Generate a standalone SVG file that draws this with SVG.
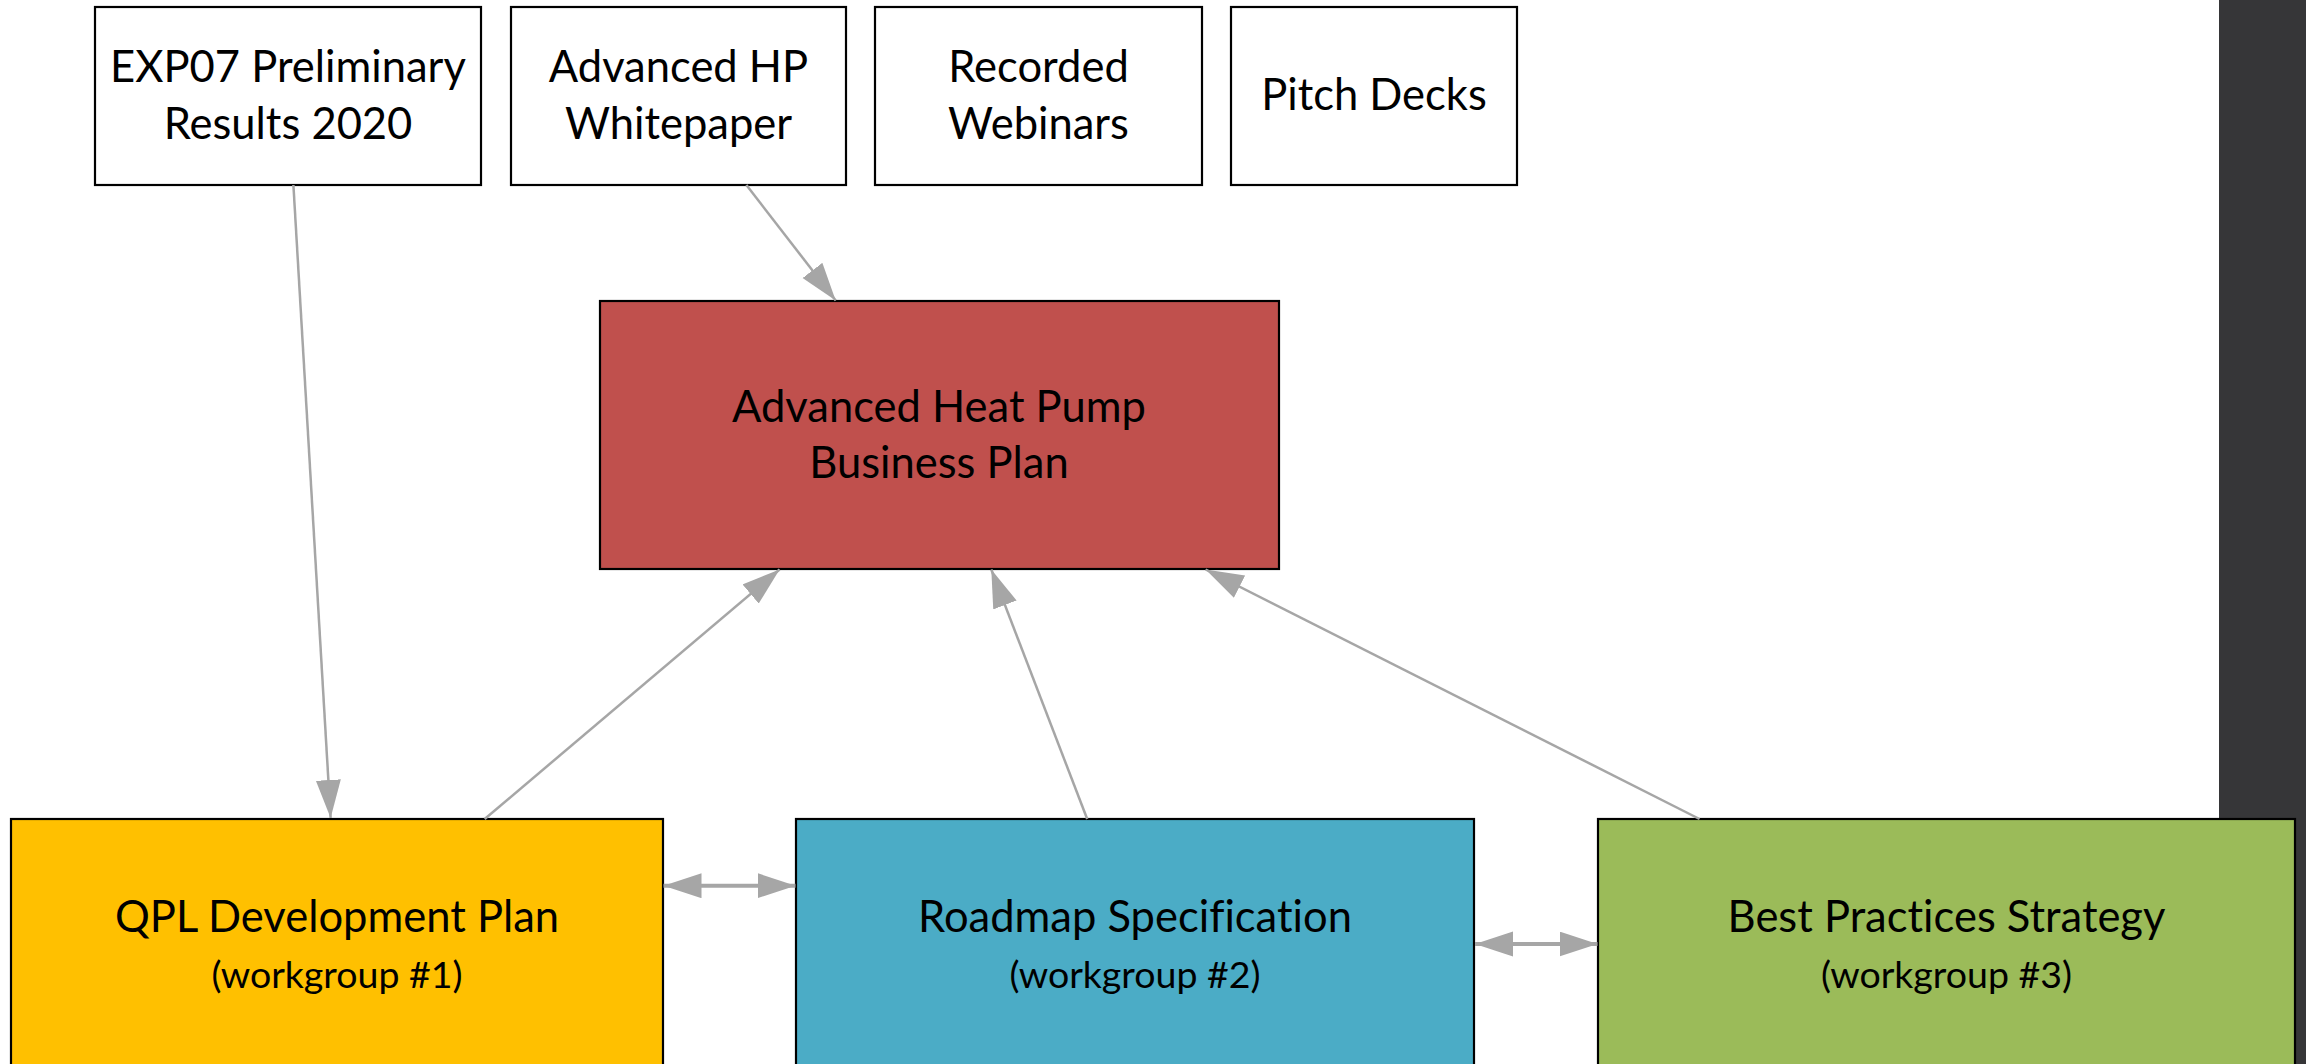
<svg xmlns="http://www.w3.org/2000/svg" width="2306" height="1064" viewBox="0 0 2306 1064">
  <style>
    .box { stroke: #000000; stroke-width: 2.2; }
    .doc { fill: #ffffff; }
    .lbl { font-family: Lato, "Open Sans", sans-serif; font-size: 43.5px; fill: #000000; text-anchor: middle; font-variant-ligatures: none; }
    .sub { font-family: Lato, "Open Sans", sans-serif; font-size: 37.5px; fill: #000000; text-anchor: middle; font-variant-ligatures: none; }
    .link { stroke: #a6a6a6; stroke-width: 2.5; fill: none; }
    .peer { stroke: #a6a6a6; stroke-width: 4; fill: none; }
  </style>
  <defs>
    <marker id="head" markerUnits="userSpaceOnUse" markerWidth="40" markerHeight="28" refX="38" refY="12.5" orient="auto-start-reverse" viewBox="0 0 40 28">
      <path d="M0,0 L38,12.5 L0,25 Z" fill="#a6a6a6"/>
    </marker>
  </defs>

  <rect x="0" y="0" width="2306" height="1064" fill="#ffffff"/>
  <!-- dark side panel -->
  <rect x="2219" y="0" width="87" height="1064" fill="#363638"/>

  <!-- source documents -->
  <g id="exp07-results">
    <rect class="box doc" x="95" y="7" width="386" height="178"/>
    <text class="lbl" x="288" y="82">EXP07 Preliminary</text>
    <text class="lbl" x="288" y="139">Results 2020</text>
  </g>
  <g id="hp-whitepaper">
    <rect class="box doc" x="511" y="7" width="335" height="178"/>
    <text class="lbl" x="678.5" y="82">Advanced HP</text>
    <text class="lbl" x="678.5" y="139">Whitepaper</text>
  </g>
  <g id="recorded-webinars">
    <rect class="box doc" x="875" y="7" width="327" height="178"/>
    <text class="lbl" x="1038.5" y="82">Recorded</text>
    <text class="lbl" x="1038.5" y="139">Webinars</text>
  </g>
  <g id="pitch-decks">
    <rect class="box doc" x="1231" y="7" width="286" height="178"/>
    <text class="lbl" x="1374" y="110">Pitch Decks</text>
  </g>

  <!-- central plan -->
  <g id="business-plan">
    <rect class="box" x="600" y="301" width="679" height="268" fill="#c0504d"/>
    <text class="lbl" x="939" y="422">Advanced Heat Pump</text>
    <text class="lbl" x="939" y="478">Business Plan</text>
  </g>

  <!-- workgroups -->
  <g id="qpl-plan">
    <rect class="box" x="11" y="819" width="652" height="270" fill="#ffc000"/>
    <text class="lbl" x="337" y="932">QPL Development Plan</text>
    <text class="sub" x="337" y="988">(workgroup #1)</text>
  </g>
  <g id="roadmap-spec">
    <rect class="box" x="796" y="819" width="678" height="270" fill="#4bacc6"/>
    <text class="lbl" x="1135" y="932">Roadmap Specification</text>
    <text class="sub" x="1135" y="988">(workgroup #2)</text>
  </g>
  <g id="best-practices">
    <rect class="box" x="1598" y="819" width="697" height="270" fill="#9bbb59"/>
    <text class="lbl" x="1946.5" y="932">Best Practices Strategy</text>
    <text class="sub" x="1946.5" y="988">(workgroup #3)</text>
  </g>

  <!-- connectors -->
  <g id="connectors">
    <line class="link" x1="293.4" y1="185" x2="330.6" y2="818" marker-end="url(#head)"/>
    <line class="link" x1="746.4" y1="185" x2="835.7" y2="300.5" marker-end="url(#head)"/>
    <line class="link" x1="484.7" y1="819" x2="779.6" y2="569.5" marker-end="url(#head)"/>
    <line class="link" x1="1087.2" y1="819" x2="991.3" y2="569.5" marker-end="url(#head)"/>
    <line class="link" x1="1699.5" y1="819" x2="1205.6" y2="569.5" marker-end="url(#head)"/>
    <line class="peer" x1="663.5" y1="885.7" x2="795.5" y2="885.7" marker-start="url(#head)" marker-end="url(#head)"/>
    <line class="peer" x1="1475" y1="944" x2="1597.5" y2="944" marker-start="url(#head)" marker-end="url(#head)"/>
  </g>
</svg>
